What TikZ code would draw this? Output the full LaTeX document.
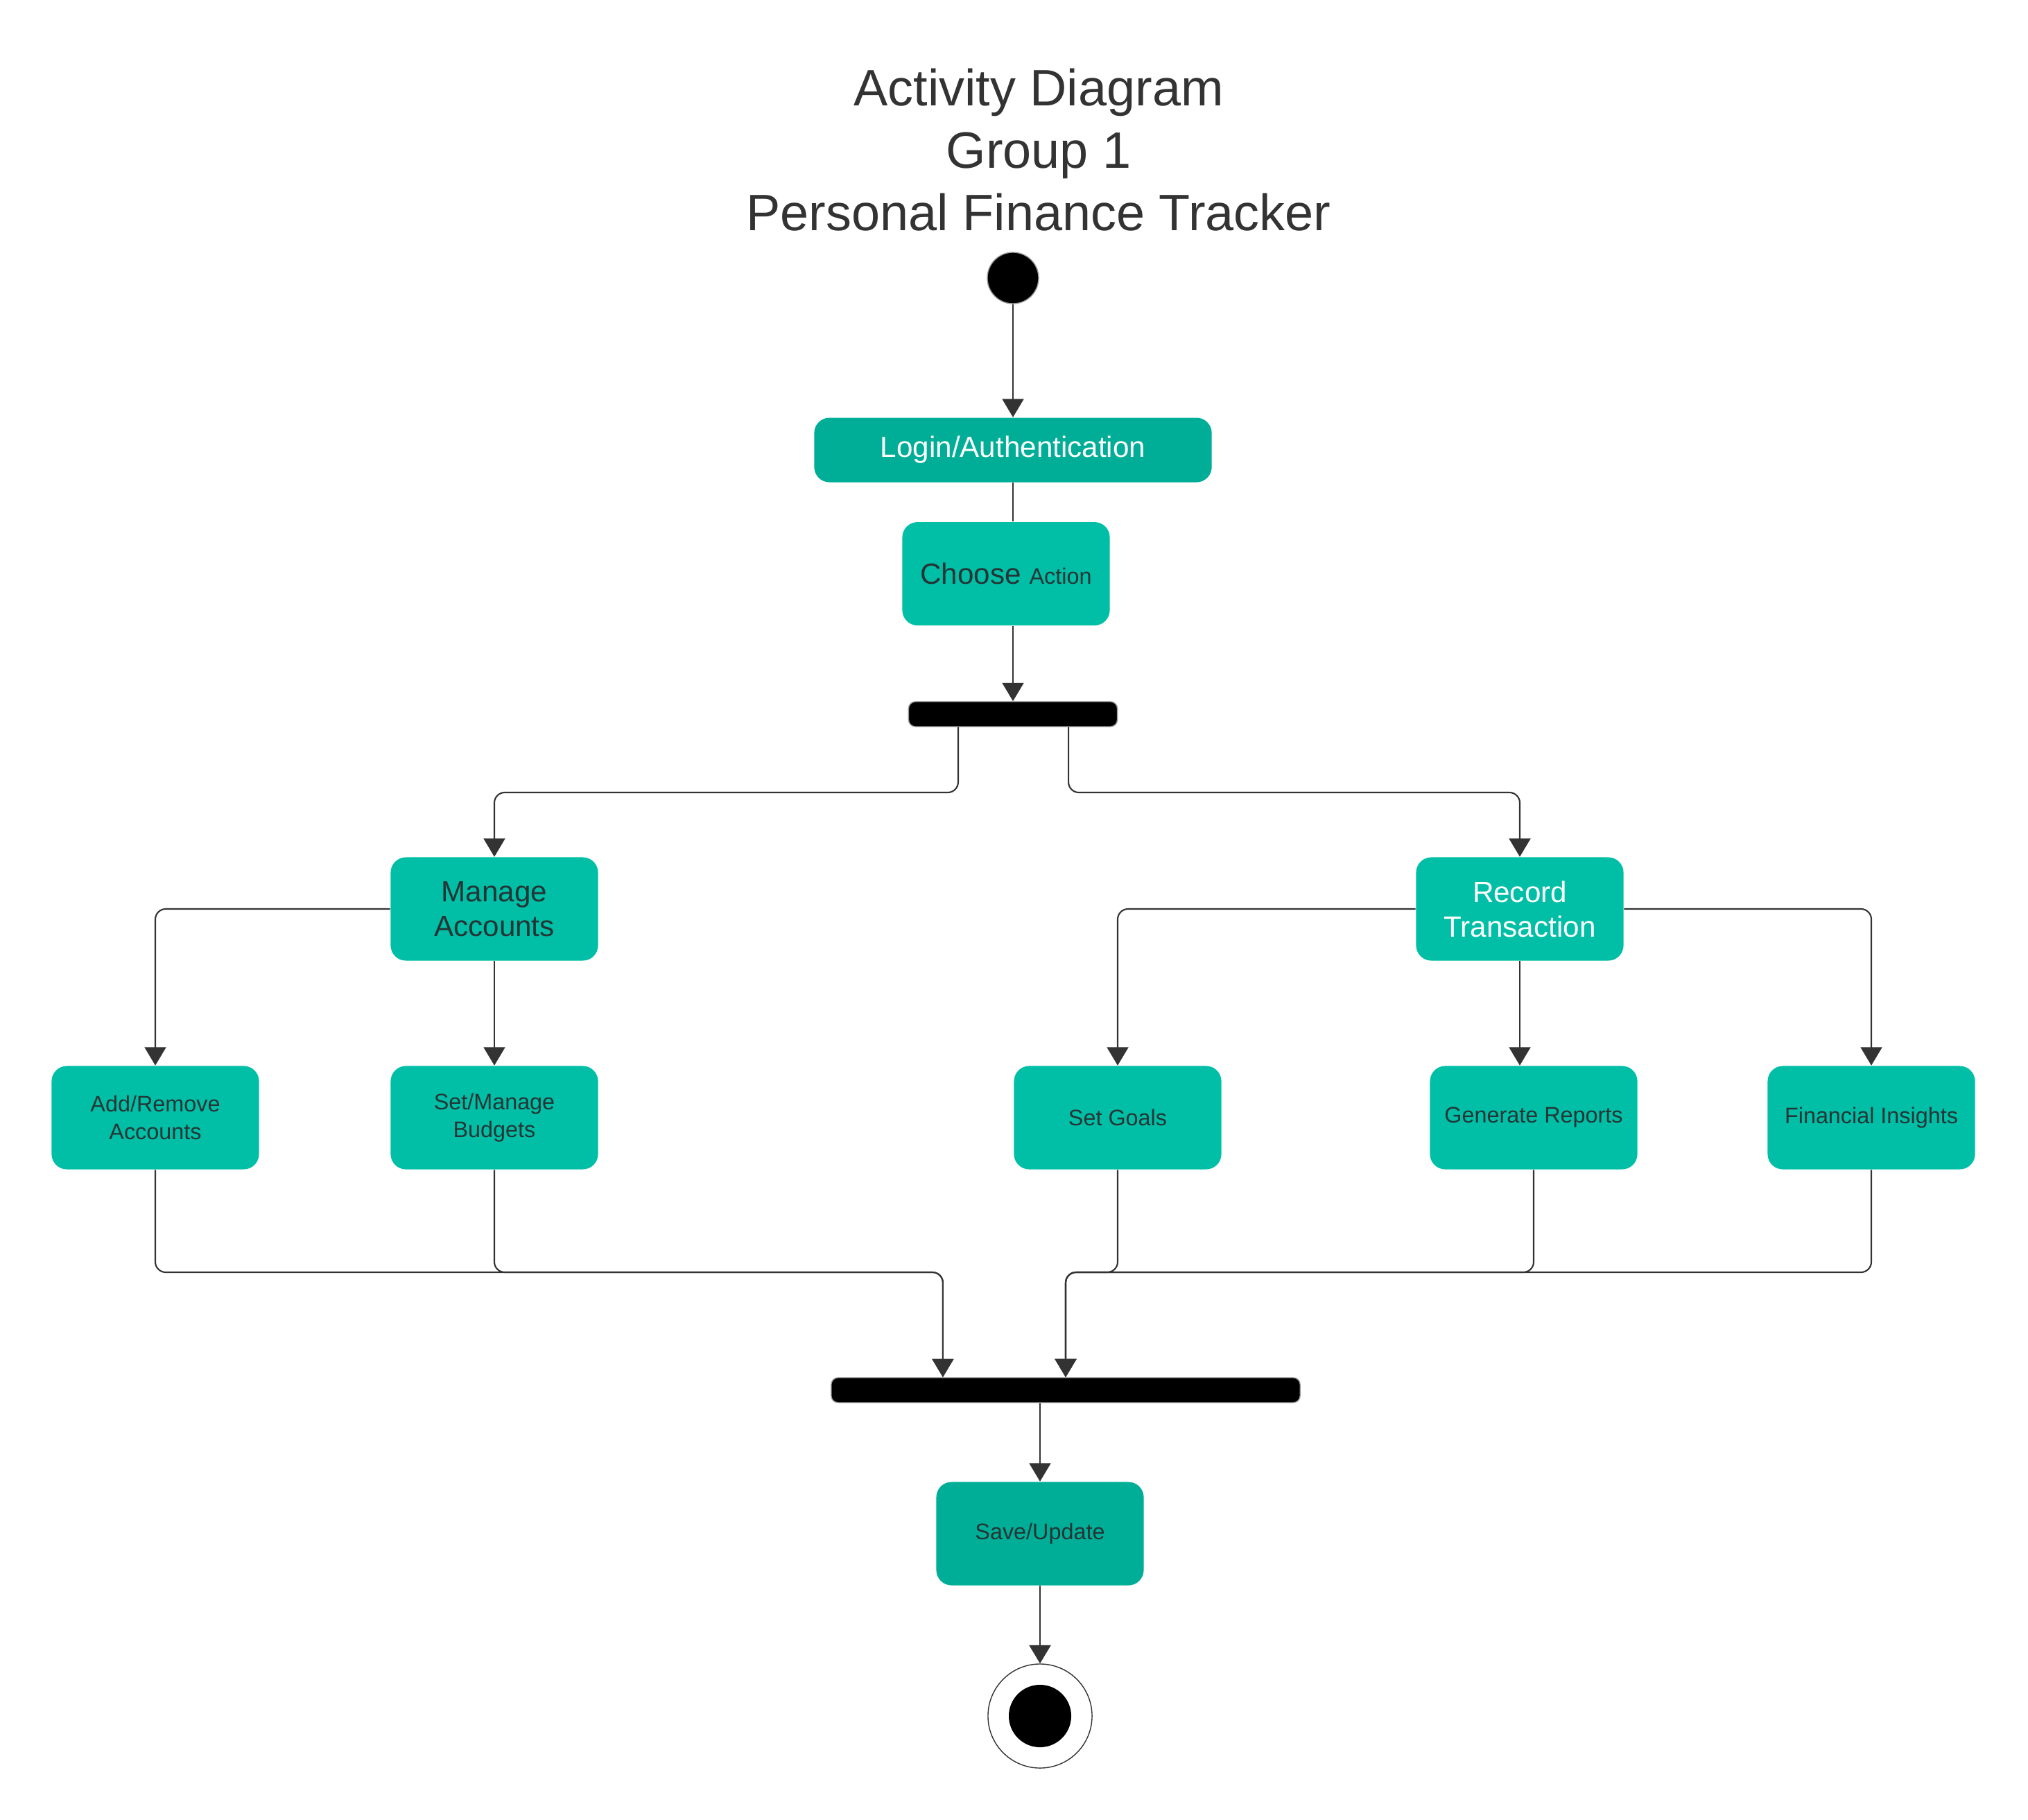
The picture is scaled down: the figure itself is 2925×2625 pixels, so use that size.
\documentclass[tikz,border=0pt]{standalone}
\usepackage{fontspec}
\setmainfont{Liberation Sans}
\usetikzlibrary{arrows.meta,positioning}
\definecolor{tealA}{HTML}{00BFA6}
\definecolor{tealB}{HTML}{00AE97}
\definecolor{txtdark}{HTML}{253535}
\definecolor{lindark}{HTML}{333333}
\tikzset{
%Define standard arrow tip
    >={Triangle[length=7.5pt,width=8.8pt]},
%Define style for activity boxes
    aktiv/.style={
           rectangle,
           rounded corners=0.22cm,
           fill=tealA,
           text=txtdark,
           minimum width=2.99cm,
           minimum height=1.49cm,
           align=center,
           font=\fontsize{9.2}{11.4}\selectfont},
    aktiv2/.style={
           aktiv,
           fill=tealB},
%Define style for fork/join bars
    balk/.style={
           rectangle,
           rounded corners=0.1cm,
           fill=black,
           draw=gray!80, thin,
           minimum height=0.36cm},
    startdot/.style={
           circle,
           fill=black,
           draw=gray!80, thin,
           inner sep=0pt,
           minimum size=0.74cm},
% Define connector styles
    pil/.style={
           ->,
           draw=lindark,
           line width=0.6pt,
           rounded corners=0.15cm},
    lin/.style={
           -,
           draw=lindark,
           line width=0.6pt}
}
\begin{document}
\begin{tikzpicture}[x=0.01cm, y=-0.01cm]
 \useasboundingbox (0,0) rectangle (2925,2625);
 \node[font=\fontsize{21}{25.6}\selectfont, text=lindark, align=center] (title) at (1498,216) {Activity Diagram\\Group 1\\Personal Finance Tracker};
 \node[startdot] (start) at (1461,401) {};
 \node[aktiv2, below=1.63cm of start, minimum width=5.73cm, minimum height=0.93cm, text=white, font=\fontsize{12}{14}\selectfont] (login) {Login/Authentication};
 \node[aktiv, below=0.56cm of login, xshift=-0.1cm, font=\fontsize{12}{14}\selectfont] (choose) {Choose {\fontsize{9.2}{11}\selectfont Action}};
 \node[balk, minimum width=3.01cm] (fork) at (1461,1030) {};
 \node[aktiv, font=\fontsize{12}{14.2}\selectfont] (manage) at (713,1311) {Manage\\Accounts};
 \node[aktiv, text=white, font=\fontsize{12}{14.2}\selectfont] (record) at (2192,1311) {Record\\Transaction};
 \node[aktiv] (addrem) at (224,1612) {Add/Remove\\Accounts};
 \node[aktiv] (budgets) at (713,1612) {Set/Manage\\Budgets};
 \node[aktiv] (goals) at (1612,1612) {Set Goals};
 \node[aktiv] (reports) at (2212,1612) {Generate Reports};
 \node[aktiv] (insights) at (2699,1612) {Financial Insights};
 \node[balk, minimum width=6.76cm] (join) at (1537,2005) {};
 \node[aktiv2] (save) at (1500,2212) {Save/Update};
 \node[circle, draw=lindark, thin, fill=white, minimum size=1.5cm] (endring) at (1500,2475) {};
 \node[circle, fill=black, minimum size=0.9cm] (enddot) at (endring) {};
%Bus lines and branch points
 \coordinate (busTop) at (0,1143);
 \coordinate (busBot) at (0,1835);
 \coordinate (forkL) at ([xshift=-0.79cm]fork.south);
 \coordinate (forkR) at ([xshift=0.80cm]fork.south);
 \coordinate (joinL) at ([xshift=-1.77cm]join.north);
 \coordinate (joinR) at (join.north);
%Connectors
 \draw[pil] (start) -- (login);
 \draw[lin] (login.south) -- (login.south |- choose.north);
 \draw[pil] (fork.north |- choose.south) -- (fork.north);
 \draw[pil] (forkL) -- (forkL |- busTop) -| (manage.north);
 \draw[pil] (forkR) -- (forkR |- busTop) -| (record.north);
 \draw[pil] (manage.west) -| (addrem.north);
 \draw[pil] (manage) -- (budgets);
 \draw[pil] (record.west) -| (goals.north);
 \draw[pil] (record.south) -- (record.south |- reports.north);
 \draw[pil] (record.east) -| (insights.north);
 \draw[pil] (addrem.south) -- (addrem.south |- busBot) -| (joinL);
 \draw[pil] (budgets.south) -- (budgets.south |- busBot) -| (joinL);
 \draw[pil] (goals.south) -- (goals.south |- busBot) -| (joinR);
 \draw[pil] (reports.south) -- (reports.south |- busBot) -| (joinR);
 \draw[pil] (insights.south) -- (insights.south |- busBot) -| (joinR);
 \draw[pil] (save.north |- join.south) -- (save.north);
 \draw[pil] (save) -- (endring);
\end{tikzpicture}
\end{document}
